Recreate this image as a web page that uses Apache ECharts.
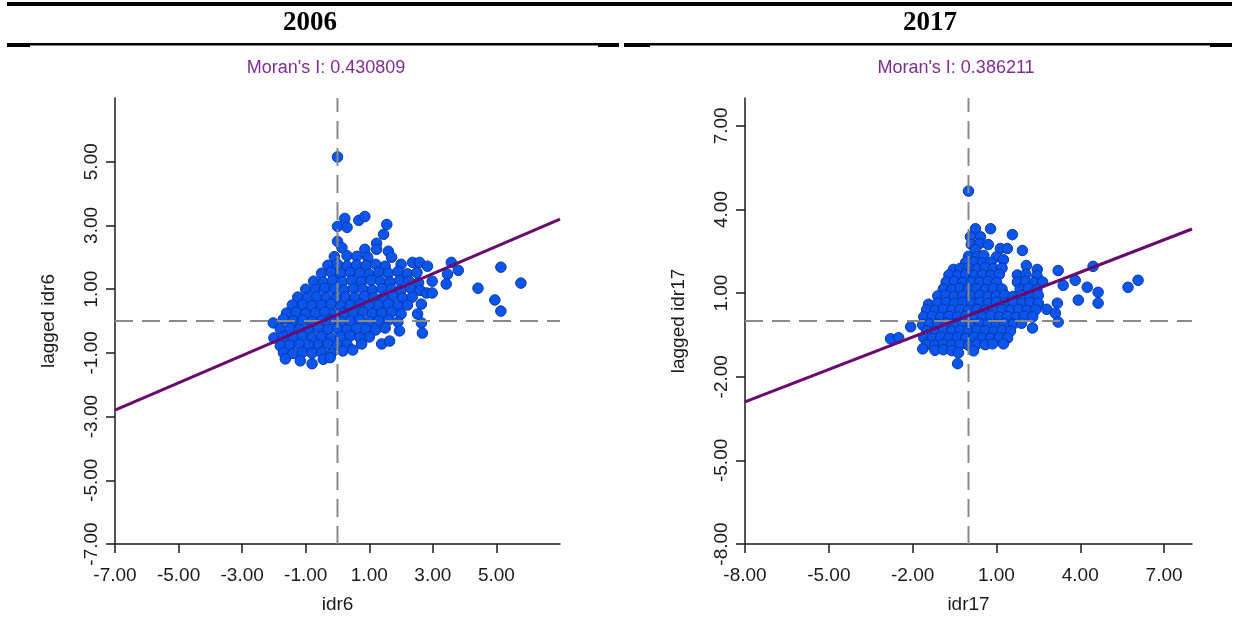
<!DOCTYPE html>
<html>
<head>
<meta charset="utf-8">
<script src="https://cdn.jsdelivr.net/npm/echarts@6/dist/echarts.min.js"></script>
<style>
  html, body { margin: 0; padding: 0; background: #fff; }
  #main { width: 1237px; height: 630px; }
</style>
</head>
<body>
<div id="main"></div>
<script>
// 2006: [idr6, lagged idr6]
var points2006 = [
  [0, 5.15], [0.23, 3.22], [0, 2.97], [0.3, 2.94], [0.67, 3.16], [0.86, 3.28], [1.55, 3.03], [1.45, 2.72],
  [0, 2.5], [1.23, 2.44], [0.14, 2.3], [0.86, 2.25], [1.23, 2.25], [1.6, 2.19],
  [-0.1, 2.02], [0.3, 2.05], [0.61, 2.03], [0.95, 2.0], [1.7, 2.0],
  [-0.3, 1.75], [0, 1.78], [0.3, 1.72], [0.6, 1.76], [0.9, 1.74], [1.2, 1.78], [1.5, 1.72], [2.0, 1.78], [2.36, 1.84], [2.58, 1.84], [2.83, 1.72], [3.58, 1.84],
  [-0.5, 1.5], [-0.2, 1.53], [0.1, 1.48], [0.4, 1.52], [0.7, 1.5], [1.0, 1.47], [1.3, 1.52], [1.6, 1.5], [1.9, 1.55], [2.2, 1.48], [2.5, 1.52], [3.46, 1.47], [3.8, 1.59],
  [-0.75, 1.25], [-0.45, 1.22], [-0.15, 1.27], [0.15, 1.24], [0.45, 1.26], [0.75, 1.23], [1.05, 1.28], [1.35, 1.25], [1.65, 1.22], [1.95, 1.27], [2.25, 1.25], [2.55, 1.2], [2.98, 1.25], [3.42, 1.16],
  [-1.0, 1.0], [-0.7, 0.98], [-0.4, 1.03], [-0.1, 1.0], [0.2, 0.97], [0.5, 1.02], [0.8, 1.0], [1.1, 0.97], [1.4, 1.02], [1.7, 1.0], [2.0, 0.98], [2.3, 1.03], [2.6, 0.96], [4.42, 1.03],
  [-1.25, 0.75], [-0.95, 0.73], [-0.65, 0.77], [-0.35, 0.75], [-0.05, 0.72], [0.25, 0.76], [0.55, 0.74], [0.85, 0.77], [1.15, 0.73], [1.45, 0.75], [1.75, 0.78], [2.05, 0.72], [2.35, 0.75], [2.8, 0.88], [2.98, 0.88],
  [-1.42, 0.5], [-1.1, 0.52], [-0.8, 0.48], [-0.5, 0.5], [-0.2, 0.53], [0.1, 0.47], [0.4, 0.5], [0.7, 0.52], [1.0, 0.48], [1.3, 0.5], [1.6, 0.53], [1.9, 0.47], [2.2, 0.5], [2.64, 0.53],
  [-1.6, 0.25], [-1.3, 0.27], [-1.0, 0.23], [-0.7, 0.25], [-0.4, 0.28], [-0.1, 0.22], [0.2, 0.26], [0.5, 0.24], [0.8, 0.27], [1.1, 0.23], [1.4, 0.25], [1.7, 0.28], [2.0, 0.22], [2.52, 0.22],
  [-2.02, -0.06], [-1.7, 0.06], [-1.4, 0.0], [-1.1, 0.03], [-0.8, -0.02], [-0.5, 0.01], [-0.2, 0.03], [0.1, -0.02], [0.4, 0.0], [0.7, 0.03], [1.0, -0.02], [1.3, 0.01], [1.6, 0.03], [1.9, -0.03], [2.64, -0.06],
  [-1.8, -0.25], [-1.5, -0.23], [-1.2, -0.27], [-0.9, -0.25], [-0.6, -0.22], [-0.3, -0.26], [0, -0.24], [0.3, -0.27], [0.6, -0.23], [0.9, -0.25], [1.2, -0.28], [1.5, -0.22], [1.95, -0.31],
  [-2.0, -0.53], [-1.7, -0.5], [-1.4, -0.52], [-1.1, -0.48], [-0.8, -0.51], [-0.5, -0.49], [-0.2, -0.53], [0.1, -0.5], [0.4, -0.47], [0.7, -0.52], [1.0, -0.5], [2.67, -0.38],
  [-1.8, -0.78], [-1.5, -0.75], [-1.2, -0.73], [-0.9, -0.77], [-0.6, -0.75], [-0.3, -0.72], [0, -0.76], [0.3, -0.74], [0.76, -0.72], [1.39, -0.72], [1.64, -0.63],
  [-1.7, -1.0], [-1.4, -1.02], [-1.1, -0.98], [-0.8, -1.01], [-0.5, -0.99], [-0.2, -1.03], [0.17, -0.94], [0.48, -0.91],
  [-1.64, -1.19], [-1.17, -1.25], [-0.8, -1.34], [-0.45, -1.2], [-0.23, -1.15],
  [5.14, 1.69], [5.77, 1.19], [4.95, 0.66], [5.14, 0.31]
];

// 2017: [idr17, lagged idr17]
var points2017 = [
  [0, 4.66], [0.25, 3.31], [0.79, 3.31], [0.07, 3.02], [0.43, 3.02], [1.57, 3.1],
  [0.1, 2.75], [0.4, 2.78], [0.71, 2.74], [0.25, 2.56], [1.14, 2.6], [1.39, 2.6], [1.93, 2.53],
  [0, 2.32], [0.3, 2.3], [0.55, 2.35], [1.0, 2.3], [1.25, 2.2],
  [-0.1, 2.1], [0.2, 2.12], [0.5, 2.08], [0.8, 2.1],
  [-0.54, 1.85], [-0.29, 1.89], [0, 1.9], [0.3, 1.87], [0.6, 1.92], [0.9, 1.88], [1.2, 1.9], [2.07, 1.99],
  [-0.7, 1.65], [-0.4, 1.62], [-0.1, 1.67], [0.2, 1.64], [0.5, 1.66], [0.8, 1.63], [1.1, 1.67], [1.75, 1.65], [2.05, 1.68], [2.46, 1.85], [2.45, 1.62], [3.21, 1.81], [4.46, 1.96],
  [-0.8, 1.4], [-0.5, 1.42], [-0.2, 1.38], [0.1, 1.41], [0.4, 1.39], [0.7, 1.42], [1.0, 1.38], [1.75, 1.4], [2.05, 1.42], [2.35, 1.38], [2.65, 1.4], [3.82, 1.46], [6.07, 1.46],
  [-0.9, 1.15], [-0.6, 1.13], [-0.3, 1.17], [0, 1.14], [0.3, 1.16], [0.6, 1.13], [0.9, 1.17], [1.2, 1.15], [1.85, 1.14], [2.15, 1.17], [2.45, 1.13], [3.39, 1.28], [4.25, 1.21], [5.71, 1.21],
  [-1.1, 0.9], [-0.8, 0.92], [-0.5, 0.88], [-0.2, 0.91], [0.1, 0.89], [0.4, 0.92], [0.7, 0.88], [1.0, 0.9], [1.3, 0.93], [1.6, 0.88], [1.9, 0.91], [2.2, 0.89], [2.5, 0.92], [4.64, 1.03],
  [-1.43, 0.6], [-1.11, 0.64], [-0.8, 0.66], [-0.5, 0.63], [-0.2, 0.67], [0.1, 0.64], [0.4, 0.66], [0.7, 0.63], [1.0, 0.67], [1.3, 0.64], [1.6, 0.66], [1.9, 0.63], [2.2, 0.67], [2.5, 0.64], [3.18, 0.64], [3.93, 0.75], [4.64, 0.64],
  [-1.5, 0.4], [-1.2, 0.38], [-0.9, 0.42], [-0.6, 0.39], [-0.3, 0.41], [0, 0.38], [0.3, 0.42], [0.6, 0.4], [0.9, 0.38], [1.2, 0.41], [1.5, 0.39], [1.8, 0.42], [2.1, 0.38], [2.4, 0.4], [2.8, 0.42],
  [-1.6, 0.15], [-1.3, 0.17], [-1.0, 0.13], [-0.7, 0.16], [-0.4, 0.14], [-0.1, 0.17], [0.2, 0.13], [0.5, 0.15], [0.8, 0.18], [1.1, 0.14], [1.4, 0.16], [1.7, 0.13], [2.0, 0.17], [2.3, 0.15], [3.11, 0.28],
  [-2.07, -0.21], [-1.64, -0.14], [-1.4, -0.1], [-1.1, -0.12], [-0.8, -0.08], [-0.5, -0.11], [-0.2, -0.09], [0.1, -0.12], [0.4, -0.08], [0.7, -0.1], [1.0, -0.12], [1.3, -0.09], [1.6, -0.11], [1.9, -0.08], [3.21, -0.04],
  [-1.5, -0.35], [-1.2, -0.37], [-0.9, -0.33], [-0.6, -0.36], [-0.3, -0.34], [0, -0.37], [0.3, -0.33], [0.6, -0.35], [0.9, -0.38], [1.2, -0.34], [1.5, -0.36], [2.29, -0.25],
  [-2.79, -0.64], [-2.5, -0.6], [-1.6, -0.6], [-1.3, -0.62], [-1.0, -0.58], [-0.7, -0.61], [-0.4, -0.59], [-0.1, -0.62], [0.2, -0.58], [0.5, -0.6], [0.8, -0.62], [1.1, -0.59], [1.4, -0.61],
  [-1.5, -0.85], [-1.2, -0.87], [-0.9, -0.83], [-0.6, -0.86], [-0.3, -0.84], [0, -0.87], [0.3, -0.83], [0.6, -0.85], [0.86, -0.82], [1.25, -0.82],
  [-1.64, -1.0], [-1.2, -1.05], [-0.9, -1.03], [-0.6, -1.06], [-0.36, -1.14], [0.18, -1.07],
  [-0.39, -1.53]
];

// regression lines (Moran's I slope)
var regLine2006 = [[-7, -2.8], [7, 3.2]];
var regLine2017 = [[-8, -2.9], [8, 3.3]];

// mean lines
var vLine2006 = [[0, -7], [0, 7]];
var hLine2006 = [[-7, 0], [7, 0]];
var vLine2017 = [[0, -8], [0, 8]];
var hLine2017 = [[-8, 0], [8, 0]];

var ticks2006 = [-7, -5, -3, -1, 1, 3, 5];
var ticks2017 = [-8, -5, -2, 1, 4, 7];

var axisFont = 'Liberation Sans, Arial, sans-serif';

function xAxisOf(idx, name, min, max, ticks) {
  return {
    gridIndex: idx, type: 'value', min: min, max: max,
    name: name, nameLocation: 'middle', nameGap: 51,
    nameTextStyle: { fontFamily: axisFont, fontSize: 19, color: '#1a1a1a' },
    axisLine: { onZero: false, lineStyle: { color: '#1a1a1a', width: 1.5 } },
    axisTick: { customValues: ticks, length: 9, lineStyle: { color: '#1a1a1a', width: 1.5 } },
    axisLabel: { customValues: ticks, margin: 22, fontFamily: axisFont, fontSize: 19, color: '#1a1a1a',
      formatter: function (v) { return v.toFixed(2) } },
    splitLine: { show: false }
  }
}

function yAxisOf(idx, name, min, max, ticks) {
  return {
    gridIndex: idx, type: 'value', min: min, max: max,
    name: name, nameLocation: 'middle', nameGap: 57,
    nameTextStyle: { fontFamily: axisFont, fontSize: 19, color: '#1a1a1a' },
    axisLine: { onZero: false, lineStyle: { color: '#1a1a1a', width: 1.5 } },
    axisTick: { customValues: ticks, length: 9, lineStyle: { color: '#1a1a1a', width: 1.5 } },
    axisLabel: { customValues: ticks, rotate: 90, margin: 14, fontFamily: axisFont, fontSize: 19, color: '#1a1a1a',
      formatter: function (v) { return v.toFixed(2) } },
    splitLine: { show: false }
  }
}

function lineOf(idx, data, color, width, type) {
  return {
    type: 'line', xAxisIndex: idx, yAxisIndex: idx, data: data,
    showSymbol: false, silent: true, z: 5,
    lineStyle: { color: color, width: width, type: type }
  }
}

function scatterOf(idx, data) {
  return {
    type: 'scatter', xAxisIndex: idx, yAxisIndex: idx, data: data,
    symbolSize: 10.5, z: 3,
    itemStyle: { color: '#0A55EC', borderColor: '#0736A8', borderWidth: 1, opacity: 1 }
  }
}

var chart = echarts.init(document.getElementById('main'))
chart.setOption({
  animation: false,
  backgroundColor: '#fff',
  grid: [
    { left: 115, top: 98, width: 445, height: 446 },
    { left: 745, top: 98, width: 447, height: 446 }
  ],
  xAxis: [
    xAxisOf(0, 'idr6', -7, 7, ticks2006),
    xAxisOf(1, 'idr17', -8, 8, ticks2017)
  ],
  yAxis: [
    yAxisOf(0, 'lagged idr6', -7, 7, ticks2006),
    yAxisOf(1, 'lagged idr17', -8, 8, ticks2017)
  ],
  series: [
    scatterOf(0, points2006),
    lineOf(0, vLine2006, '#8a8a8a', 2, [18, 9]),
    lineOf(0, hLine2006, '#8a8a8a', 2, [18, 9]),
    lineOf(0, regLine2006, '#6A0A6E', 3, 'solid'),
    scatterOf(1, points2017),
    lineOf(1, vLine2017, '#8a8a8a', 2, [18, 9]),
    lineOf(1, hLine2017, '#8a8a8a', 2, [18, 9]),
    lineOf(1, regLine2017, '#6A0A6E', 3, 'solid')
  ],
  graphic: [
    { type: 'rect', shape: { x: 7, y: 2, width: 1225, height: 4 }, style: { fill: '#000' } },
    { type: 'rect', shape: { x: 7, y: 43, width: 612, height: 2.5 }, style: { fill: '#000' } },
    { type: 'rect', shape: { x: 624, y: 43, width: 608, height: 2.5 }, style: { fill: '#000' } },
    { type: 'rect', shape: { x: 7, y: 43, width: 23, height: 4 }, style: { fill: '#000' } },
    { type: 'rect', shape: { x: 598, y: 43, width: 21, height: 4 }, style: { fill: '#000' } },
    { type: 'rect', shape: { x: 624, y: 43, width: 26, height: 4 }, style: { fill: '#000' } },
    { type: 'rect', shape: { x: 1210, y: 43, width: 22, height: 4 }, style: { fill: '#000' } },
    { type: 'text', x: 310, y: 23, style: { text: '2006', align: 'center', verticalAlign: 'middle',
      font: 'bold 27px "Liberation Serif", "Times New Roman", serif', fill: '#000' } },
    { type: 'text', x: 930, y: 23, style: { text: '2017', align: 'center', verticalAlign: 'middle',
      font: 'bold 27px "Liberation Serif", "Times New Roman", serif', fill: '#000' } },
    { type: 'text', x: 326, y: 68, style: { text: "Moran's I: 0.430809", align: 'center', verticalAlign: 'middle',
      font: '18px "Liberation Sans", Arial, sans-serif', fill: '#7E2C94' } },
    { type: 'text', x: 956, y: 68, style: { text: "Moran's I: 0.386211", align: 'center', verticalAlign: 'middle',
      font: '18px "Liberation Sans", Arial, sans-serif', fill: '#7E2C94' } }
  ]
})
</script>
</body>
</html>
